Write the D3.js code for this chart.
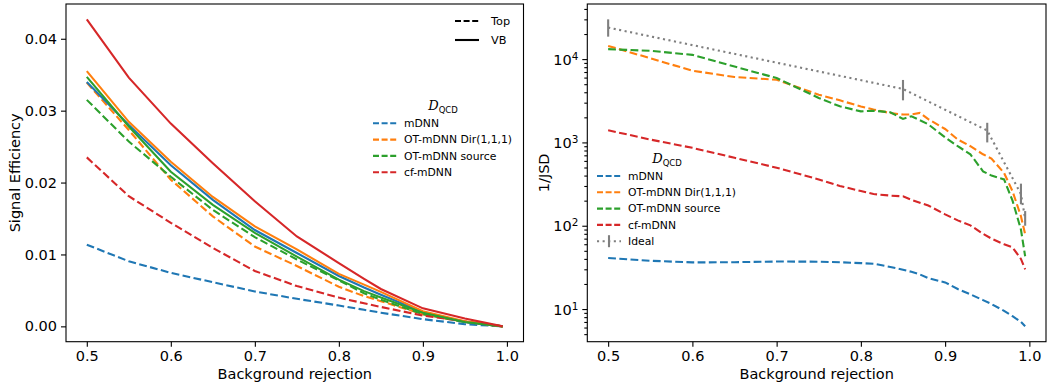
<!DOCTYPE html>
<html lang="en">
  <head>
    <meta charset="UTF-8">
    <title>Signal efficiency and 1/JSD</title>
    <script src="https://d3js.org/d3.v7.min.js"></script>
    <style>
      body { margin: 0; background: #fff; }
      text { font-family: "DejaVu Sans", sans-serif; fill: #000; }
    </style>
  </head>
  <body>

<script>
  // ---- left panel: signal efficiency vs background rejection
  const effX = [0.5, 0.55, 0.6, 0.65, 0.7, 0.75, 0.8, 0.83, 0.85, 0.9, 0.95, 0.995];

  const effTop = {
    "mDNN":                [0.01136, 0.00905, 0.00744, 0.00614, 0.00485, 0.00383, 0.0029, 0.0023, 0.0019, 0.0010, 0.0003, 0],
    "OT-mDNN Dir(1,1,1)":  [0.0339, 0.0273, 0.0204, 0.0153, 0.0111, 0.0084, 0.0055, 0.0042, 0.0035, 0.0017, 0.0006, 0],
    "OT-mDNN source":      [0.0315, 0.0257, 0.0208, 0.0162, 0.0124, 0.0093, 0.0064, 0.0046, 0.0037, 0.0017, 0.0006, 0],
    "cf-mDNN":             [0.0235, 0.0181, 0.0144, 0.0109, 0.0077, 0.0056, 0.0040, 0.0032, 0.0027, 0.0015, 0.0007, 0]
  };
  const effVB = {
    "mDNN":                [0.0340, 0.0280, 0.0224, 0.0176, 0.0134, 0.0102, 0.0070, 0.0054, 0.0044, 0.0020, 0.0006, 0],
    "OT-mDNN Dir(1,1,1)":  [0.0355, 0.02845, 0.0229, 0.0180, 0.0139, 0.0107, 0.0073, 0.0058, 0.0048, 0.0021, 0.0007, 0],
    "OT-mDNN source":      [0.0347, 0.0278, 0.0215, 0.0169, 0.0130, 0.0097, 0.0065, 0.0049, 0.0040, 0.0019, 0.0006, 0],
    "cf-mDNN":             [0.0427, 0.0346, 0.0282, 0.0227, 0.0174, 0.0125, 0.0088, 0.0066, 0.0052, 0.0025, 0.0011, 0]
  };

  // ---- right panel: 1/JSD (log)
  const jsdX = [0.5, 0.55, 0.6, 0.65, 0.7, 0.75, 0.775, 0.8, 0.815, 0.835, 0.85, 0.86, 0.87, 0.88,
                0.9, 0.915, 0.93, 0.945, 0.955, 0.97, 0.98, 0.99, 0.995];
  const jsd = {
    "mDNN":               [41, 38, 36.3, 36.5, 37.2, 37, 36.5, 35.6, 35, 32, 29.6, 28, 26, 23.5,
                           20.9, 17.4, 15, 12.8, 11.5, 9.5, 8.2, 7, 6.2],
    "OT-mDNN Dir(1,1,1)": [14400, 10240, 7250, 6100, 5650, 3740, 3200, 2700, 2480, 2250, 2160, 2160, 2260, 1900,
                           1450, 1085, 900, 720, 640, 430, 260, 130, 79],
    "OT-mDNN source":     [13170, 12570, 11250, 8130, 5930, 3420, 2710, 2360, 2400, 2300, 1915, 2060, 1850, 1650,
                           1150, 900, 720, 450, 400, 360, 200, 90, 43],
    "cf-mDNN":            [1400, 1083, 861, 654, 497, 360, 300, 261, 240, 230, 225, 205, 189, 175,
                           137, 116, 101, 80, 70, 60, 55, 40, 30]
  };
  const idealX   = [0.5, 0.85, 0.95, 0.99, 0.995];
  const idealY   = [23900, 4380, 1390, 240, 122];
  const idealLo  = [18600, 3200, 1000, 181, 100];
  const idealHi  = [30000, 5620, 1720, 320, 150];

  const models = ["mDNN", "OT-mDNN Dir(1,1,1)", "OT-mDNN source", "cf-mDNN"];
  const colors = ["#1f77b4", "#ff7f0e", "#2ca02c", "#d62728"];
  const grey = "#7f7f7f";

  const w = 1047, h = 387;
  const svg = d3.select("body").append("svg").attr("width", w).attr("height", h);

  const dash = "7.8,3.4";
  const lw = 2.1;
  const legFont = 10.8;

  function pad(lo, hi) { const m = (hi - lo) * 0.05; return [lo - m, hi + m]; }

  // ---------- left axes
  const L = { x0: 66, x1: 523.5, y0: 4, y1: 341.7 };
  const allEff = Object.values(effTop).concat(Object.values(effVB)).flat();
  const xL = d3.scaleLinear().domain(pad(0.5, 0.995)).range([L.x0, L.x1]);
  const yL = d3.scaleLinear().domain(pad(d3.min(allEff), d3.max(allEff))).range([L.y1, L.y0]);

  const axL = svg.append("g");
  axL.append("g").attr("transform", `translate(0,${L.y1})`)
     .call(d3.axisBottom(xL).tickValues([0.5, 0.6, 0.7, 0.8, 0.9, 1.0]).tickFormat(d3.format(".1f"))
             .tickSize(5).tickPadding(4).tickSizeOuter(0));
  axL.append("g").attr("transform", `translate(${L.x0},0)`)
     .call(d3.axisLeft(yL).tickValues([0, 0.01, 0.02, 0.03, 0.04]).tickFormat(d3.format(".2f"))
             .tickSize(5).tickPadding(4).tickSizeOuter(0));

  const lineL = d3.line().x((d, i) => xL(effX[i])).y(d => yL(d));
  models.forEach((m, k) => {
    svg.append("path").attr("d", lineL(effTop[m])).attr("fill", "none")
       .attr("stroke", colors[k]).attr("stroke-width", lw).attr("stroke-dasharray", dash);
  });
  models.forEach((m, k) => {
    svg.append("path").attr("d", lineL(effVB[m])).attr("fill", "none")
       .attr("stroke", colors[k]).attr("stroke-width", lw);
  });

  // ---------- right axes
  const R = { x0: 587.3, x1: 1046, y0: 4, y1: 341.7 };
  const allJ = Object.values(jsd).flat().concat(idealLo, idealHi);
  const lgLo = Math.log10(d3.min(allJ)), lgHi = Math.log10(d3.max(allJ));
  const lgDom = pad(lgLo, lgHi);
  const xR = d3.scaleLinear().domain(pad(0.5, 0.995)).range([R.x0, R.x1]);
  const yR = d3.scaleLog().domain([Math.pow(10, lgDom[0]), Math.pow(10, lgDom[1])]).range([R.y1, R.y0]);

  const axR = svg.append("g");
  axR.append("g").attr("transform", `translate(0,${R.y1})`)
     .call(d3.axisBottom(xR).tickValues([0.5, 0.6, 0.7, 0.8, 0.9, 1.0]).tickFormat(d3.format(".1f"))
             .tickSize(5).tickPadding(4).tickSizeOuter(0));
  const major = [10, 100, 1000, 10000];
  const minor = [];
  for (let e = 0; e < 5; e++) for (let k = 2; k < 10; k++) {
    const v = k * Math.pow(10, e);
    if (v >= yR.domain()[0] && v <= yR.domain()[1]) minor.push(v);
  }
  axR.append("g").attr("transform", `translate(${R.x0},0)`)
     .call(d3.axisLeft(yR).tickValues(minor).tickFormat("").tickSize(3).tickSizeOuter(0));
  const yAxR = axR.append("g").attr("transform", `translate(${R.x0},0)`)
     .call(d3.axisLeft(yR).tickValues(major).tickFormat("").tickSize(5).tickPadding(4).tickSizeOuter(0));
  yAxR.selectAll(".tick").append("text")
     .attr("x", -9).attr("dy", "0.36em").attr("text-anchor", "end")
     .each(function (d) {
       const t = d3.select(this);
       t.append("tspan").text("10");
       t.append("tspan").attr("dy", "-0.5em").attr("font-size", "0.72em").text(Math.round(Math.log10(d)));
     });

  svg.selectAll(".domain").attr("stroke-width", 0);
  svg.selectAll(".tick line").attr("stroke", "#000").attr("stroke-width", 1.1);
  svg.selectAll(".tick text").attr("font-size", 14.5).attr("fill", "#000")
     .attr("font-family", "DejaVu Sans, sans-serif");

  const lineR = d3.line().x((d, i) => xR(jsdX[i])).y(d => yR(d));
  models.forEach((m, k) => {
    svg.append("path").attr("d", lineR(jsd[m])).attr("fill", "none")
       .attr("stroke", colors[k]).attr("stroke-width", lw).attr("stroke-dasharray", dash);
  });
  const lineI = d3.line().x((d, i) => xR(idealX[i])).y(d => yR(d));
  svg.append("path").attr("d", lineI(idealY)).attr("fill", "none")
     .attr("stroke", grey).attr("stroke-width", lw).attr("stroke-dasharray", "2.1,3.5");
  svg.selectAll(".ebar").data(idealX).enter().append("line")
     .attr("x1", d => xR(d)).attr("x2", d => xR(d))
     .attr("y1", (d, i) => yR(idealLo[i])).attr("y2", (d, i) => yR(idealHi[i]))
     .attr("stroke", grey).attr("stroke-width", lw);

  // frames
  [L, R].forEach(a => {
    svg.append("rect").attr("x", a.x0).attr("y", a.y0).attr("width", a.x1 - a.x0).attr("height", a.y1 - a.y0)
       .attr("fill", "none").attr("stroke", "#000").attr("stroke-width", 1.1);
  });

  // axis labels
  svg.append("text").attr("x", (L.x0 + L.x1) / 2).attr("y", 379).attr("text-anchor", "middle")
     .attr("font-size", 14.5).text("Background rejection");
  svg.append("text").attr("x", (R.x0 + R.x1) / 2).attr("y", 379).attr("text-anchor", "middle")
     .attr("font-size", 14.5).text("Background rejection");
  svg.append("text").attr("transform", `translate(20,${(L.y0 + L.y1) / 2}) rotate(-90)`)
     .attr("text-anchor", "middle").attr("font-size", 14.5).text("Signal Efficiency");
  svg.append("text").attr("transform", `translate(549,${(R.y0 + R.y1) / 2}) rotate(-90)`)
     .attr("text-anchor", "middle").attr("font-size", 14.5).text("1/JSD");

  // legends
  function legTitle(x, y) {
    const t = svg.append("text").attr("x", x).attr("y", y).attr("text-anchor", "middle").attr("font-size", 11);
    t.append("tspan").attr("font-family", "DejaVu Serif, serif").attr("font-style", "italic")
     .attr("font-size", 13).text("D");
    t.append("tspan").attr("dy", 2.5).attr("font-size", 8.5).text("QCD");
  }
  function legEntry(x, y, label, color, style) {
    const ln = svg.append("line").attr("x1", x).attr("x2", x + 24).attr("y1", y).attr("y2", y)
      .attr("stroke", color).attr("stroke-width", lw);
    if (style === "dash") ln.attr("stroke-dasharray", "6,2.6");
    if (style === "dot") {
      ln.attr("stroke-dasharray", "2.1,3.5");
      svg.append("line").attr("x1", x + 12).attr("x2", x + 12).attr("y1", y - 6).attr("y2", y + 6)
         .attr("stroke", color).attr("stroke-width", lw);
    }
    svg.append("text").attr("x", x + 31).attr("y", y).attr("dy", "0.36em").attr("font-size", legFont).text(label);
  }

  // style legend (left, top right)
  legEntry(455, 21, "", "#000", "dash");
  svg.append("text").attr("x", 491).attr("y", 21).attr("dy", "0.36em").attr("font-size", 11.3).text("Top");
  legEntry(455, 40, "", "#000", "solid");
  svg.append("text").attr("x", 491).attr("y", 40).attr("dy", "0.36em").attr("font-size", 11.3).text("VB");

  legTitle(443, 110);
  models.forEach((m, k) => legEntry(373, 123.3 + k * 16.3, m, colors[k], "dash"));

  legTitle(667, 163);
  models.forEach((m, k) => legEntry(597, 176 + k * 16.3, m, colors[k], "dash"));
  legEntry(597, 176 + 4 * 16.3, "Ideal", grey, "dot");
</script>

  </body>
</html>
